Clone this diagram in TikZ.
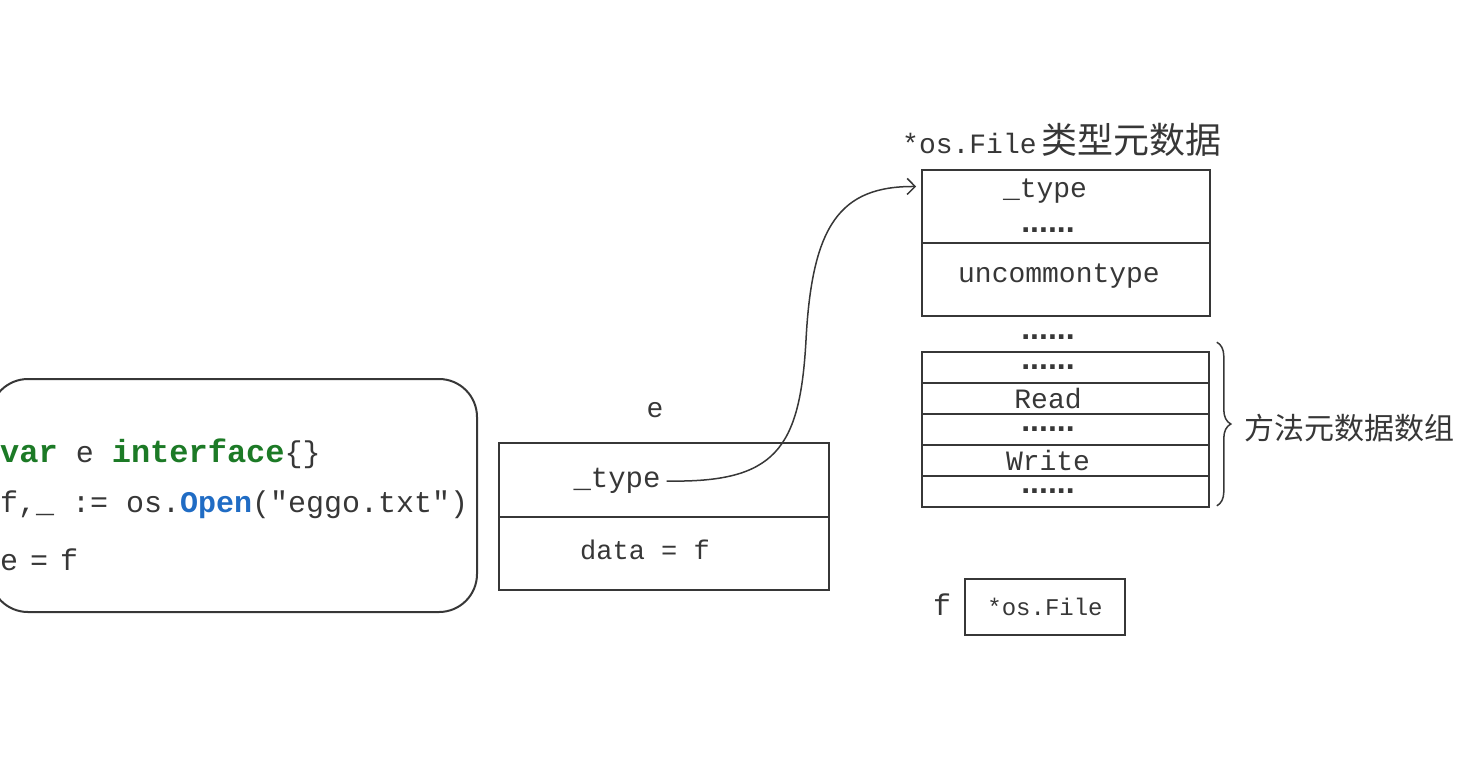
\documentclass[tikz,border=0pt]{standalone}
\usepackage{fontspec}
\setmonofont{Liberation Mono}
\setsansfont{Liberation Sans}
\newfontfamily\cjk{Noto Sans CJK SC}
\usepackage{xcolor}
\usepackage{tikz}
\usetikzlibrary{arrows.meta, decorations.pathreplacing}

\definecolor{ink}{RGB}{55,55,55}
\definecolor{kwgreen}{RGB}{28,122,38}
\definecolor{fnblue}{RGB}{32,108,196}
\newcommand{\dotrow}{{\sffamily\bfseries\fontsize{32}{36}\selectfont ......}}
\newcommand{\kw}[1]{{\fontsize{32}{36}\selectfont\bfseries\color{kwgreen}#1}}

\begin{document}
\begin{tikzpicture}[x=1pt, y=-1pt,
    cell/.style={rectangle, draw=ink, line width=1.6pt, inner sep=0pt},
    code/.style={anchor=base west, inner sep=0pt, text=ink, font=\ttfamily\fontsize{30}{36}\selectfont},
    lbl/.style={inner sep=0pt, text=ink, font=\ttfamily\fontsize{28}{34}\selectfont}]
        \useasboundingbox (0,0) rectangle (1463,756);

        % Code
        \node[cell, line width=2pt, rounded corners=38pt, minimum width=487pt, minimum height=233pt] (codebox) at (233.5,495.5) {};
        \node[code] (line1) at (0,462) {\kw{var} e \kw{interface}\{\}};
        \node[code] (line2) at (0,512) {f,\_ := os.\textbf{\color{fnblue}Open}("eggo.txt")};
        \node[code] (line3) at (0,570) {e\hspace{12pt}=\hspace{12pt}f};

        % Interface value e
        \node[lbl] (elabel) at (655,410) {e};
        \node[cell, minimum width=330pt, minimum height=74pt] (e1) at (664,480) {};
        \node[cell, minimum width=330pt, minimum height=73pt] (e2) at (664,553.5) {};
        \node[lbl, font=\ttfamily\fontsize{29}{34}\selectfont] (etype) at (617,481) {\_type};
        \node[lbl, font=\ttfamily\fontsize{27}{32}\selectfont] (edata) at (645,550) {data = f};

        % Type metadata
        \node[anchor=west, inner sep=0pt, text=ink] (title) at (902,140) {{\ttfamily\fontsize{28}{34}\selectfont *os.File}\hspace{5pt}{\cjk\fontsize{36}{42}\selectfont 类型元数据}};
        \node[cell, minimum width=288pt, minimum height=73pt] (t1) at (1066,206.5) {};
        \node[cell, minimum width=288pt, minimum height=73pt] (t2) at (1066,279.5) {};
        \node[lbl] (ttype) at (1045,191) {\_type};
        \node[inner sep=0pt, text=ink] (tdots) at (1048,230) {\dotrow};
        \node[lbl] (tunc) at (1059,276) {uncommontype};
        \node[inner sep=0pt, text=ink] (gapdots) at (1048,337) {\dotrow};

        % Methods
        \foreach \txt [count=\i] in {\dotrow, Read, \dotrow, Write, \dotrow} {
            \node[cell, minimum width=287pt, minimum height=31pt] (m\i) at (1065.5,{352+31*(\i-0.5)}) {};
            \node[lbl, font=\ttfamily\fontsize{28}{30}\selectfont] (mt\i) at (1048,{352+31*(\i-0.5)}) {\txt};
        }
        \draw[ink, line width=1.5pt, decorate, decoration={brace, amplitude=14pt}] ([xshift=7pt, yshift=9pt]m1.north east) -- ([xshift=7pt, yshift=2pt]m5.south east);
        \node[anchor=west, inner sep=0pt, text=ink, font=\cjk\fontsize{30}{36}\selectfont] (mlabel) at (1244,428) {方法元数据数组};

        % f
        \node[lbl, font=\ttfamily\fontsize{30}{36}\selectfont] (flabel) at (942,605) {f};
        \node[cell, text=ink, font=\ttfamily\fontsize{24}{30}\selectfont, minimum width=160pt, minimum height=56pt] (fbox) at (1045,607) {*os.File};

        % Arrow
        \coordinate (tin) at ([xshift=-5pt, yshift=20pt]t1.west);
        \draw[ink, line width=1.5pt, -{Straight Barb[length=8pt, width=16pt]}] ([xshift=6pt]etype.east) .. controls (775,483) and (800,450) .. (806,340) .. controls (812,225) and (840,186) .. (tin);

    \end{tikzpicture}
\end{document}
